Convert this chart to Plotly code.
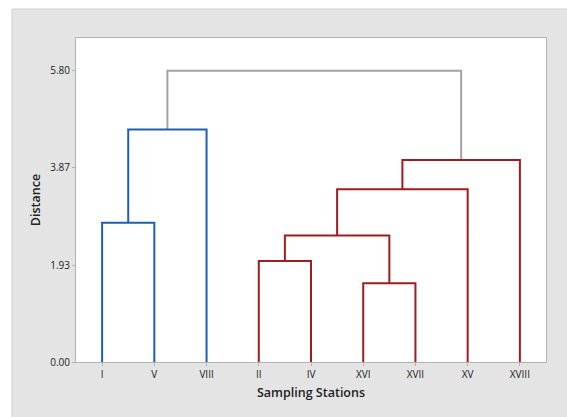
import plotly.graph_objects as go

# ---- data ----
leaves = ["I", "V", "VIII", "II", "IV", "XVI", "XVII", "XV", "XVIII"]
# merges: (left member, right member, height, colour group)
merge_left = ["I", "m1", "XVI", "II", "m4", "m5", "m6", "m2"]
merge_right = ["V", "VIII", "XVII", "IV", "m3", "XV", "XVIII", "m7"]
merge_height = [2.77, 4.63, 1.57, 2.01, 2.52, 3.44, 4.02, 5.80]
merge_group = ["blue", "blue", "red", "red", "red", "red", "red", "gray"]
y_ticks = [0.00, 1.93, 3.87, 5.80]
y_tick_labels = ["0.00", "1.93", "3.87", "5.80"]

colors = {"blue": "#1d60b3", "red": "#9f1c22", "gray": "#a3a3a3"}

pos = {name: i for i, name in enumerate(leaves)}
hgt = {name: 0.0 for name in leaves}
segs = {k: ([], []) for k in colors}
for i, (a, b, h, g) in enumerate(zip(merge_left, merge_right, merge_height, merge_group)):
    xs, ys = segs[g]
    xs += [pos[a], pos[a], pos[b], pos[b], None]
    ys += [hgt[a], h, h, hgt[b], None]
    key = "m%d" % (i + 1)
    pos[key] = (pos[a] + pos[b]) / 2
    hgt[key] = h

fig = go.Figure()
for g in ["gray", "blue", "red"]:
    xs, ys = segs[g]
    fig.add_trace(go.Scatter(x=xs, y=ys, mode="lines",
                             line=dict(color=colors[g], width=2),
                             hoverinfo="skip", showlegend=False))

L, R, T, B = 76, 21, 38, 55
W, H = 567, 417
pw, ph = W - L - R, H - T - B

fig.add_shape(type="rect", xref="paper", yref="paper",
              x0=(12 - L) / pw, x1=(W + 5 - L) / pw,
              y0=-(B + 5) / ph, y1=(H - B - 9) / ph,
              fillcolor="#e4e4e4", line=dict(color="#cfcfcf", width=1), layer="below")
fig.add_shape(type="rect", xref="paper", yref="paper", x0=0, x1=1, y0=0, y1=1,
              fillcolor="white", line=dict(width=0), layer="below")

font_family = "Open Sans, Noto Sans, sans-serif"
fig.update_layout(
    width=W, height=H,
    margin=dict(l=L, r=R, t=T, b=B),
    paper_bgcolor="white", plot_bgcolor="rgba(0,0,0,0)",
    font=dict(family=font_family, size=10, color="#222222"),
    xaxis=dict(
        range=[-0.5, len(leaves) - 0.5],
        tickmode="array", tickvals=list(range(len(leaves))), ticktext=leaves,
        showgrid=False, zeroline=False,
        showline=True, mirror=True, linecolor="#b3b3b3", linewidth=1,
        ticks="outside", ticklen=3, tickcolor="#b3b3b3",
        tickfont=dict(size=10, color="#222222"),
        title=dict(text="Sampling Stations", standoff=8,
                   font=dict(size=12.5, color="#222222", weight=600)),
    ),
    yaxis=dict(
        range=[0, 6.45],
        tickmode="array", tickvals=y_ticks, ticktext=y_tick_labels,
        showgrid=False, zeroline=False,
        showline=True, mirror=True, linecolor="#b3b3b3", linewidth=1,
        ticks="outside", ticklen=3, tickcolor="#b3b3b3",
        tickfont=dict(size=10, color="#222222"),
        title=dict(text="Distance", standoff=6,
                   font=dict(size=12.5, color="#222222", weight=600)),
    ),
)

fig.write_html("out.html", config={"displayModeBar": False},
               post_script="document.body.style.margin='0';document.body.style.overflow='hidden';")
